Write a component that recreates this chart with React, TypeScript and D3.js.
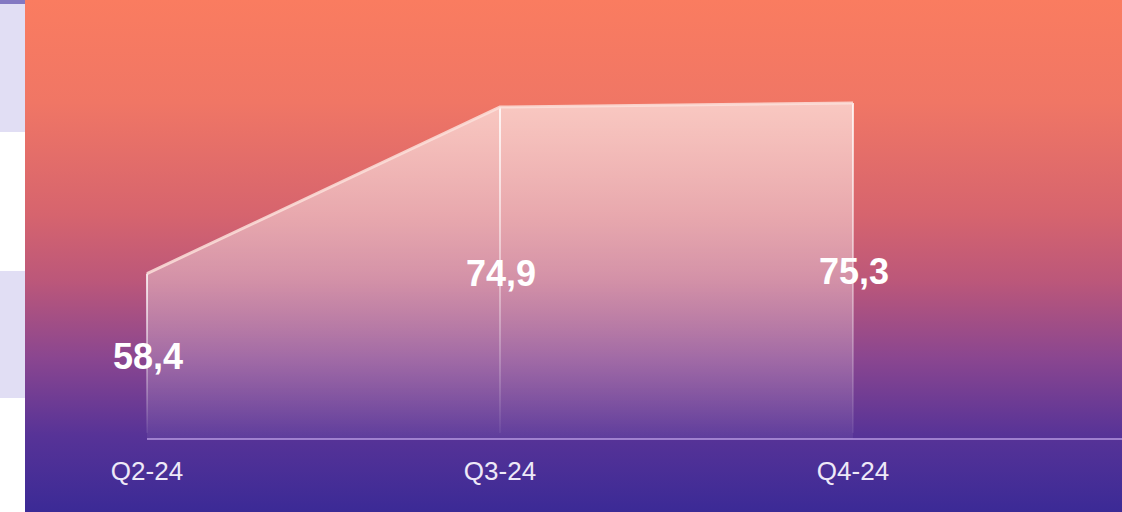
import React, { useEffect, useRef } from 'react';
import * as d3 from 'd3';

// Data
const categories = ['Q2-24', 'Q3-24', 'Q4-24'];
const values = [58.4, 74.9, 75.3];
const valueLabels = ['58,4', '74,9', '75,3'];

const W = 1122;
const H = 512;

export default function App() {
  const svgRef = useRef<SVGSVGElement>(null);

  useEffect(() => {
    if (!svgRef.current) return;
    const svg = d3.select(svgRef.current);
    svg.selectAll('*').remove();

    const panelX = 25;
    const baseY = 439;

    const x = d3.scalePoint<string>()
      .domain(categories)
      .range([147, 853]);

    const y = d3.scaleLinear()
      .domain([42, 76])
      .range([baseY, 96]);

    const defs = svg.append('defs');

    // фон панели
    const bg = defs.append('linearGradient')
      .attr('id', 'bg')
      .attr('x1', 0).attr('y1', 0).attr('x2', 0).attr('y2', 1);
    [
      [0, '#fa7c60'],
      [0.2, '#f07665'],
      [0.42, '#d6646e'],
      [0.55, '#bb577a'],
      [0.7, '#8a4690'],
      [0.85, '#573397'],
      [1, '#3b2a96'],
    ].forEach(([o, c]) => bg.append('stop').attr('offset', o as number).attr('stop-color', c as string));

    // заливка области
    const areaGrad = defs.append('linearGradient')
      .attr('id', 'areaFill')
      .attr('gradientUnits', 'userSpaceOnUse')
      .attr('x1', 0).attr('y1', y(75.3)).attr('x2', 0).attr('y2', baseY);
    areaGrad.append('stop').attr('offset', 0).attr('stop-color', '#fff').attr('stop-opacity', 0.6);
    areaGrad.append('stop').attr('offset', 0.5).attr('stop-color', '#fff').attr('stop-opacity', 0.36);
    areaGrad.append('stop').attr('offset', 1).attr('stop-color', '#fff').attr('stop-opacity', 0.05);

    const edgeGrad = defs.append('linearGradient')
      .attr('id', 'edge')
      .attr('x1', 0).attr('y1', 0).attr('x2', 0).attr('y2', 1);
    edgeGrad.append('stop').attr('offset', 0).attr('stop-color', '#fff').attr('stop-opacity', 0.8);
    edgeGrad.append('stop').attr('offset', 1).attr('stop-color', '#fff').attr('stop-opacity', 0.05);

    // левая полоса
    svg.append('rect').attr('x', 0).attr('y', 0).attr('width', panelX).attr('height', H).attr('fill', '#ffffff');
    svg.append('rect').attr('x', 0).attr('y', 0).attr('width', panelX).attr('height', 132).attr('fill', '#e1def4');
    svg.append('rect').attr('x', 0).attr('y', 0).attr('width', panelX).attr('height', 4).attr('fill', '#8378c2');
    svg.append('rect').attr('x', 0).attr('y', 271).attr('width', panelX).attr('height', 127).attr('fill', '#e1def4');

    svg.append('rect')
      .attr('x', panelX).attr('y', 0)
      .attr('width', W - panelX).attr('height', H)
      .attr('fill', 'url(#bg)');

    const data = categories.map((c, i) => ({ c, v: values[i], label: valueLabels[i] }));

    const area = d3.area<typeof data[0]>()
      .x(d => x(d.c)!)
      .y0(baseY)
      .y1(d => y(d.v));

    svg.append('path')
      .datum(data)
      .attr('d', area)
      .attr('fill', 'url(#areaFill)');

    // вертикальные линии
    svg.selectAll('.edge')
      .data(data)
      .enter()
      .append('rect')
      .attr('class', 'edge')
      .attr('x', d => x(d.c)! - 1)
      .attr('y', d => y(d.v))
      .attr('width', 2)
      .attr('height', d => baseY - 6 - y(d.v))
      .attr('fill', 'url(#edge)');

    const line = d3.line<typeof data[0]>()
      .x(d => x(d.c)!)
      .y(d => y(d.v));

    svg.append('path')
      .datum(data)
      .attr('d', line)
      .attr('fill', 'none')
      .attr('stroke', '#fbe0da')
      .attr('stroke-opacity', 0.85)
      .attr('stroke-width', 3);

    // ось
    svg.append('line')
      .attr('x1', x(categories[0])!).attr('x2', W)
      .attr('y1', baseY).attr('y2', baseY)
      .attr('stroke', '#b79ae0')
      .attr('stroke-opacity', 0.75)
      .attr('stroke-width', 2);

    svg.selectAll('.cat')
      .data(data)
      .enter()
      .append('text')
      .attr('class', 'cat')
      .attr('x', d => x(d.c)!)
      .attr('y', 480)
      .attr('text-anchor', 'middle')
      .style('font-family', '"Liberation Sans", Arial, sans-serif')
      .style('font-size', '26px')
      .style('fill', '#eee9f8')
      .text(d => d.c);

    svg.selectAll('.val')
      .data(data)
      .enter()
      .append('text')
      .attr('class', 'val')
      .attr('x', d => x(d.c)! + 1)
      .attr('y', d => (y(d.v) + baseY) / 2)
      .attr('dy', '0.36em')
      .attr('text-anchor', 'middle')
      .style('font-family', '"Liberation Sans", Arial, sans-serif')
      .style('font-size', '36px')
      .style('font-weight', 'bold')
      .style('fill', '#ffffff')
      .text(d => d.label);
  }, []);

  return (
    <div style={{ position: 'fixed', left: 0, top: 0, width: W, height: H }}>
      <svg ref={svgRef} width={W} height={H} style={{ display: 'block' }}></svg>
    </div>
  );
}
